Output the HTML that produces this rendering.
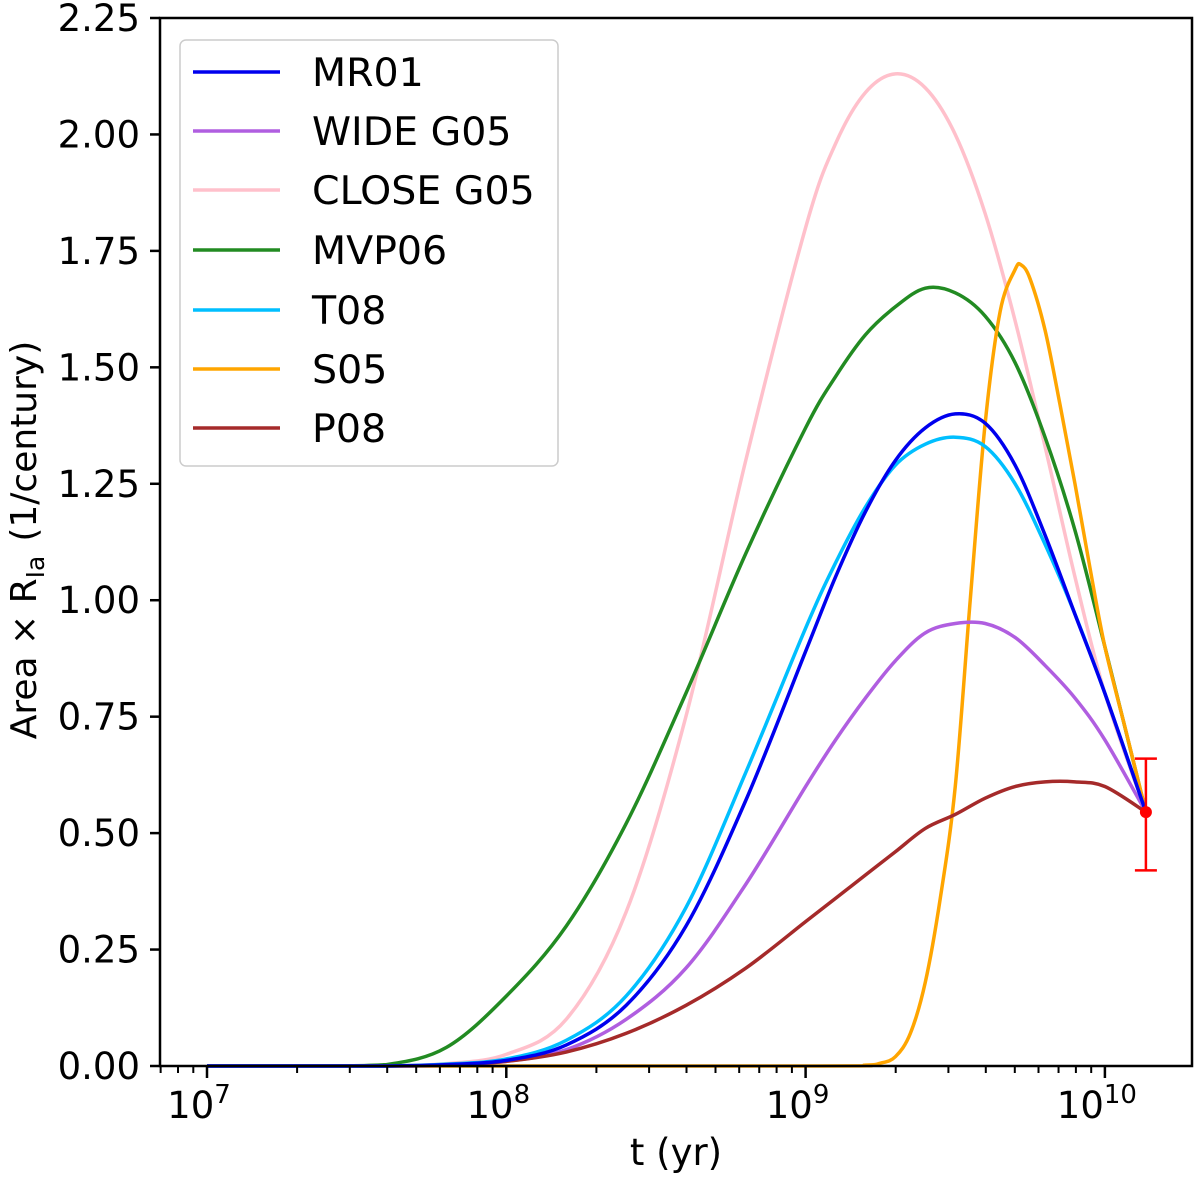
<!DOCTYPE html>
<html><head><meta charset="utf-8"><style>
html,body{margin:0;padding:0;background:#fff;}
svg text{font-family:"DejaVu Sans","Liberation Sans",sans-serif;fill:#000;}
</style></head><body>
<svg id="chart" width="1200" height="1177" viewBox="0 0 1200 1177" xmlns="http://www.w3.org/2000/svg">
<g id="series-layer"></g>
<g id="axes-layer"></g>
<g id="legend-layer"></g>
</svg>
<script>
// Shared log10(t) grid
const logT = [7, 7.4, 7.6, 7.8, 8, 8.2, 8.4, 8.6, 8.8, 9, 9.1, 9.2, 9.3, 9.4, 9.5, 9.6, 9.7, 9.8, 9.9, 10, 10.137];
const seriesNames = ["MR01","WIDE G05","CLOSE G05","MVP06","T08","S05","P08"];
const seriesColors = ["#0000ee","#b05ee0","#ffc0cb","#228b22","#00bfff","#ffa500","#a52a2a"];
const mr01    = [0,0,0,0.003,0.012,0.045,0.13,0.3,0.57,0.89,1.05,1.19,1.3,1.37,1.40,1.38,1.29,1.14,0.97,0.8,0.545];
const wideG05 = [0,0,0,0.002,0.01,0.035,0.1,0.21,0.39,0.6,0.7,0.79,0.87,0.93,0.95,0.95,0.92,0.86,0.79,0.7,0.545];
const closeG05= [0,0,0,0.005,0.025,0.1,0.33,0.75,1.3,1.8,1.98,2.09,2.13,2.1,2.0,1.83,1.6,1.33,1.05,0.8,0.545];
const mvp06   = [0,0,0.003,0.04,0.15,0.3,0.52,0.8,1.1,1.37,1.48,1.57,1.63,1.67,1.66,1.61,1.51,1.35,1.15,0.9,0.545];
const t08     = [0,0,0,0.004,0.015,0.055,0.15,0.34,0.63,0.94,1.08,1.2,1.29,1.335,1.35,1.33,1.25,1.12,0.97,0.8,0.545];
const p08     = [0,0,0,0.002,0.01,0.03,0.07,0.13,0.21,0.31,0.36,0.41,0.46,0.51,0.54,0.575,0.6,0.61,0.61,0.6,0.545];
// S05 has its own grid (steep rise)
const logT_S05 = [7, 9.0, 9.2, 9.25, 9.3, 9.35, 9.4, 9.45, 9.5, 9.55, 9.6, 9.65, 9.7, 9.72, 9.75, 9.8, 9.85, 9.9, 9.95, 10, 10.07, 10.137];
const s05      = [0, 0, 0.002, 0.006, 0.02, 0.07, 0.18, 0.36, 0.6, 1.0, 1.38, 1.62, 1.71, 1.72, 1.69, 1.58, 1.42, 1.25, 1.07, 0.9, 0.72, 0.545];
const obsLogT = [10.137];
const obsVal = [0.545];
const obsLow = [0.42];
const obsHigh = [0.66];
const yTicks = [0,0.25,0.5,0.75,1.0,1.25,1.5,1.75,2.0,2.25];
const yTickLabels = ["0.00","0.25","0.50","0.75","1.00","1.25","1.50","1.75","2.00","2.25"];
const xMajor = [7,8,9,10];
const xMajorLabels = ["7","8","9","10"];

const L=160,R=1192,T=18,B=1066;
const xs = lt => 207 + (lt-7)*299.3;
const ys = v => B - v/2.25*(B-T);
const NS="http://www.w3.org/2000/svg";
function mk(tag,attrs,parent){const e=document.createElementNS(NS,tag);for(const k in attrs)e.setAttribute(k,attrs[k]);parent.appendChild(e);return e;}

function crPath(px,py){
  const n=px.length;
  let s="M"+px[0].toFixed(2)+","+py[0].toFixed(2);
  for(let i=0;i<n-1;i++){
    const x0=i>0?px[i-1]:px[i], y0=i>0?py[i-1]:py[i];
    const x3=i<n-2?px[i+2]:px[i+1], y3=i<n-2?py[i+2]:py[i+1];
    const c1x=px[i]+(px[i+1]-x0)/6, c1y=Math.min(B,py[i]+(py[i+1]-y0)/6);
    const c2x=px[i+1]-(x3-px[i])/6, c2y=Math.min(B,py[i+1]-(y3-py[i])/6);
    s+=" C"+c1x.toFixed(2)+","+c1y.toFixed(2)+" "+c2x.toFixed(2)+","+c2y.toFixed(2)+" "+px[i+1].toFixed(2)+","+py[i+1].toFixed(2);
  }
  return s;
}
const sl=document.getElementById('series-layer');
const drawOrder=[["MR01",logT,mr01],["WIDE G05",logT,wideG05],["CLOSE G05",logT,closeG05],["MVP06",logT,mvp06],["T08",logT,t08],["S05",logT_S05,s05],["P08",logT,p08]];
const paintOrder=[2,3,5,1,6,4,0];
paintOrder.forEach(i=>{
  const [nm,lx,vals]=drawOrder[i];
  const p=mk('path',{d:crPath(lx.map(xs),vals.map(ys)),fill:'none',stroke:seriesColors[i],'stroke-width':3.5,'stroke-linejoin':'round'},sl);
  
  
});
obsLogT.forEach((lt,i)=>{
  const x=xs(lt);
  const g=mk('g',{},sl);
  
  
  mk('line',{x1:x,x2:x,y1:ys(obsLow[i]),y2:ys(obsHigh[i]),stroke:'#f00','stroke-width':2.5},g);
  mk('line',{x1:x-11,x2:x+11,y1:ys(obsLow[i]),y2:ys(obsLow[i]),stroke:'#f00','stroke-width':2.5},g);
  mk('line',{x1:x-11,x2:x+11,y1:ys(obsHigh[i]),y2:ys(obsHigh[i]),stroke:'#f00','stroke-width':2.5},g);
  mk('circle',{cx:x,cy:ys(obsVal[i]),r:6,fill:'#f00'},g);
});
const al=document.getElementById('axes-layer');
const frame=mk('rect',{x:L,y:T,width:R-L,height:B-T,fill:'none',stroke:'#000','stroke-width':2.5},al);

yTicks.forEach((v,i)=>{
  const y=ys(v);
  mk('line',{x1:L-10,x2:L,y1:y,y2:y,stroke:'#000','stroke-width':2.5},al);
  const t=mk('text',{x:L-20,y:y+13,'text-anchor':'end','font-size':37},al);
  t.textContent=yTickLabels[i];
  
  
});
for(let dec=6;dec<=10;dec++){for(let k=2;k<=9;k++){const lt=dec+Math.log10(k);const x=xs(lt);if(x<L||x>R)continue;
  mk('line',{x1:x,x2:x,y1:B,y2:B+7,stroke:'#000','stroke-width':2},al);}}
xMajor.forEach((lt,i)=>{
  const x=xs(lt);
  mk('line',{x1:x,x2:x,y1:B,y2:B+12,stroke:'#000','stroke-width':2.5},al);
  const t=mk('text',{x:x-8,y:B+52,'text-anchor':'middle','font-size':37},al);
  t.innerHTML='10<tspan dy="-15" font-size="26">'+xMajorLabels[i]+'</tspan>';
  
  
});
const xt=mk('text',{x:676,y:1165,'text-anchor':'middle','font-size':37},al);xt.textContent='t (yr)';

const yt=mk('text',{x:0,y:0,'text-anchor':'middle','font-size':36,transform:'translate(36,540) rotate(-90)','xml:space':'preserve'},al);
yt.innerHTML='Area \u00d7 R<tspan dy="8" font-size="25">Ia</tspan><tspan dy="-8" dx="14">(1/century)</tspan>';

const lg=document.getElementById('legend-layer');
mk('rect',{x:180,y:40,width:378,height:426,rx:6,fill:'#fff','fill-opacity':0.85,stroke:'#ccc','stroke-width':1.5},lg);
const legY=[72,131,190,250,310,369,428];
seriesNames.forEach((nm,i)=>{
  const g=mk('g',{},lg);
  
  
  mk('line',{x1:193,x2:280,y1:legY[i],y2:legY[i],stroke:seriesColors[i],'stroke-width':3.5},g);
  const t=mk('text',{x:312,y:legY[i]+14,'font-size':39.5},g);t.textContent=nm;
});
</script>
</body></html>
